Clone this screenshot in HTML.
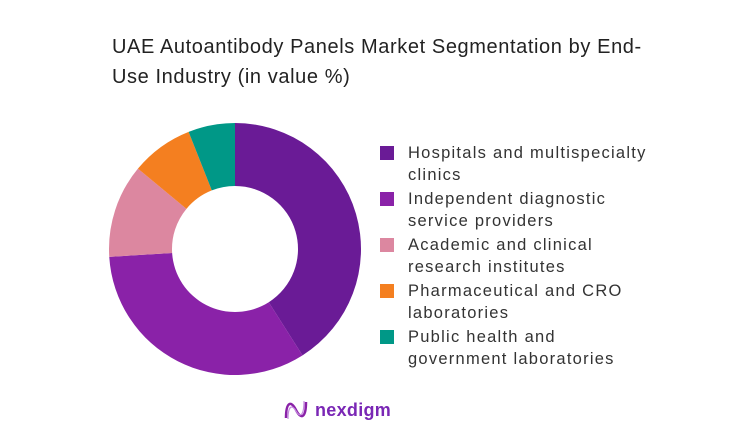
<!DOCTYPE html>
<html><head><meta charset="utf-8"><style>
body{margin:0;width:745px;height:448px;background:#fff;font-family:"Liberation Sans",sans-serif;overflow:hidden;position:relative}
.title{position:absolute;left:112px;top:32px;font-size:20px;line-height:30px;color:#222;width:600px;letter-spacing:0.6px;white-space:nowrap}
.legend{position:absolute;left:380px;top:142px;font-size:16.5px;color:#333;line-height:22px;letter-spacing:1.25px}
.item{display:flex;margin-bottom:2px}
.sw{width:14px;height:14px;margin-top:4px;margin-right:14px;flex:none}
.logo{position:absolute;left:283px;top:398px;display:flex;align-items:center;font-size:18px;color:#7a27b5;font-weight:bold;letter-spacing:0.3px}
</style></head><body>
<div class="title">UAE Autoantibody Panels Market Segmentation by End-<br>Use Industry (in value %)</div>
<svg id="chart" width="745" height="448" style="position:absolute;left:0;top:0"></svg>
<div class="legend">
<div class="item"><div class="sw" style="background:#6a1b96"></div><div>Hospitals and multispecialty<br>clinics</div></div>
<div class="item"><div class="sw" style="background:#8a22a8"></div><div>Independent diagnostic<br>service providers</div></div>
<div class="item"><div class="sw" style="background:#dc87a0"></div><div>Academic and clinical<br>research institutes</div></div>
<div class="item"><div class="sw" style="background:#f47f20"></div><div>Pharmaceutical and CRO<br>laboratories</div></div>
<div class="item"><div class="sw" style="background:#009887"></div><div>Public health and<br>government laboratories</div></div>
</div>
<div class="logo">
<svg width="26" height="24" viewBox="0 0 26 24"><path d="M3 20 C3 4 8 2 13 12 C18 22 23 20 23 4" stroke="#8a22a8" stroke-width="2.5" fill="none"/><path d="M5 21 C5 8 9 6 13 13 C17 20 21 18 21 3" stroke="#c58ae0" stroke-width="1.2" fill="none"/></svg>
<span style="margin-left:6px">nexdigm</span></div>
<script>
const categories=["Hospitals and multispecialty clinics","Independent diagnostic service providers","Academic and clinical research institutes","Pharmaceutical and CRO laboratories","Public health and government laboratories"];
const values=[41,33,12,8,6];
const colors=["#6a1b96","#8a22a8","#dc87a0","#f47f20","#009887"];
const svg=document.getElementById('chart');
const cx=235,cy=249,R=126,r=63;
const total=values.reduce((a,b)=>a+b,0);
let a0=0;
function pt(rad,a){return [cx+rad*Math.sin(a),cy-rad*Math.cos(a)];}
values.forEach((v,i)=>{
 const a1=a0+v/total*2*Math.PI;
 const large=(a1-a0)>Math.PI?1:0;
 const p1=pt(R,a0),p2=pt(R,a1),p3=pt(r,a1),p4=pt(r,a0);
 const p=document.createElementNS('http://www.w3.org/2000/svg','path');
 p.setAttribute('d',`M${p1} A${R},${R} 0 ${large} 1 ${p2} L${p3} A${r},${r} 0 ${large} 0 ${p4} Z`);
 p.setAttribute('fill',colors[i]);
 
 
 svg.appendChild(p);
 a0=a1;
});
</script>
</body></html>
